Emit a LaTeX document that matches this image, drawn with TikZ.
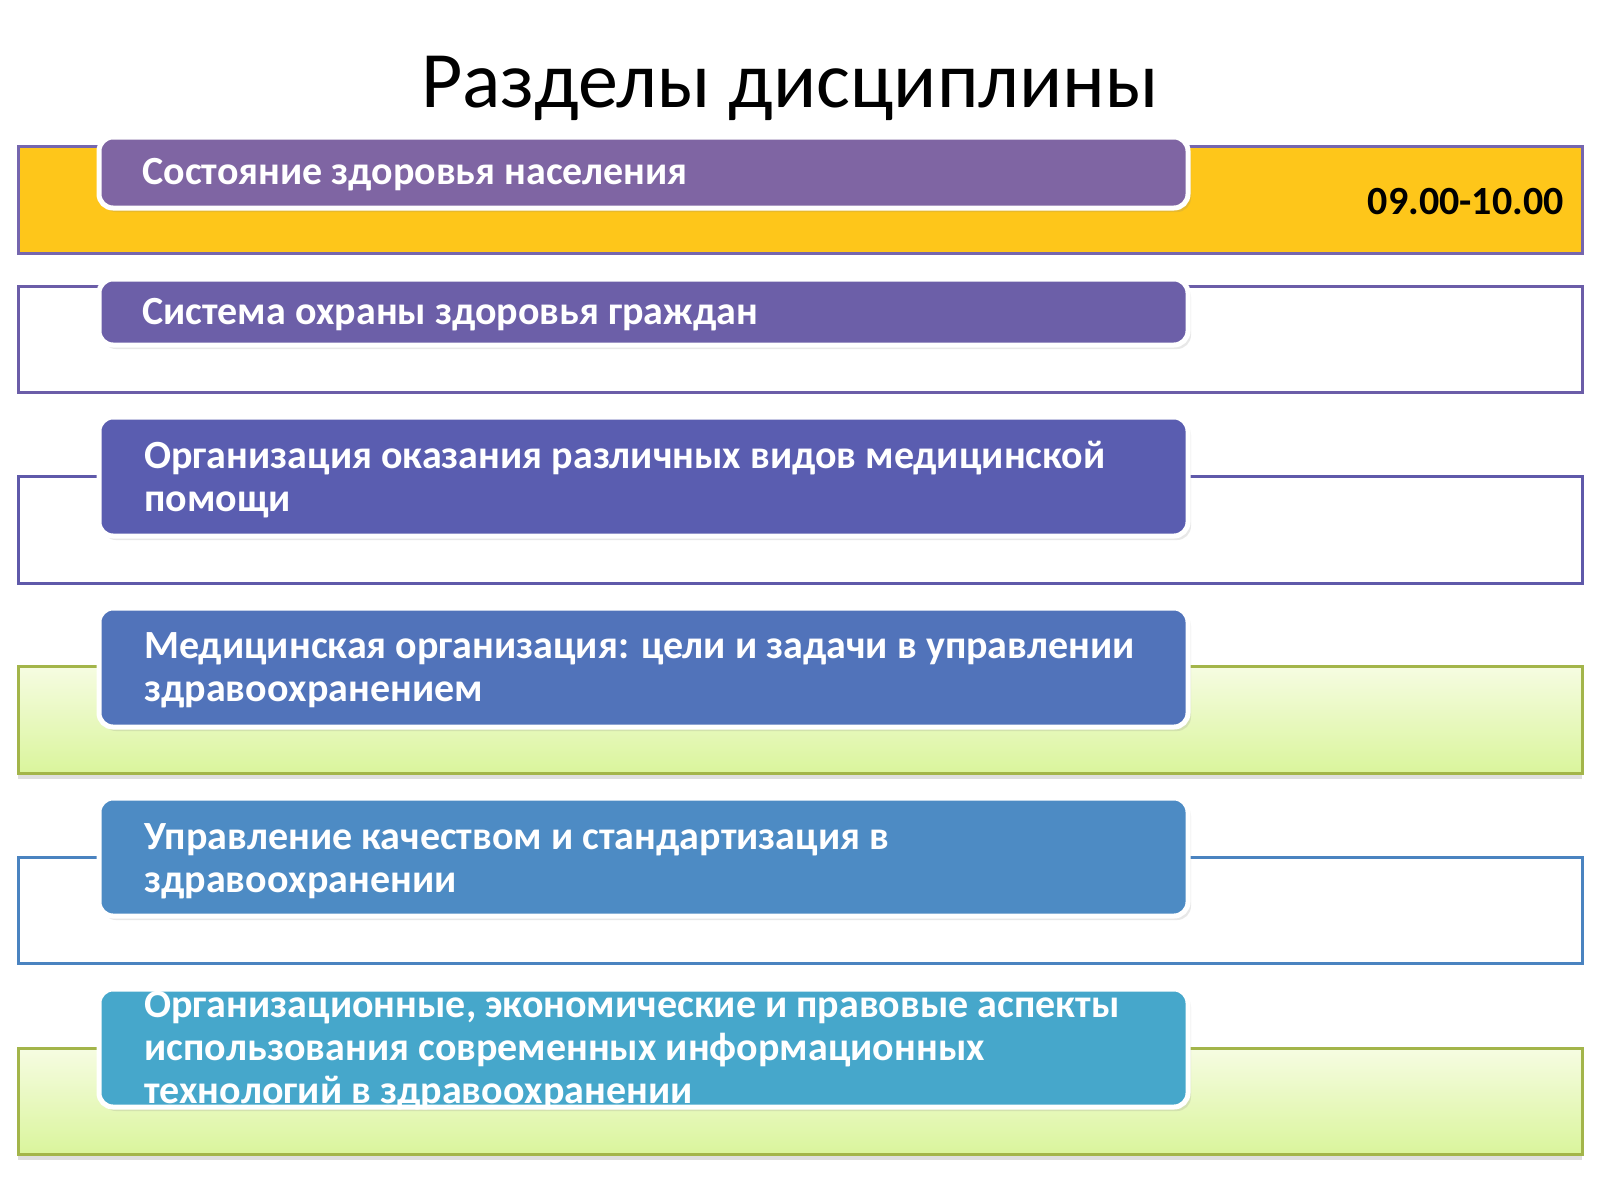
\documentclass[tikz,border=0pt]{standalone}
\usepackage{fontspec}
\setmainfont{Carlito}
\usetikzlibrary{shadows}
\definecolor{yel}{HTML}{FEC61A}
\definecolor{bA}{HTML}{7566AE}
\definecolor{bB}{HTML}{6B5DA8}
\definecolor{bC}{HTML}{5F59AA}
\definecolor{bD}{HTML}{A3B54A}
\definecolor{bE}{HTML}{4A83C0}
\definecolor{fA}{HTML}{7F65A3}
\definecolor{fB}{HTML}{6C5FA8}
\definecolor{fC}{HTML}{5A5DB0}
\definecolor{fD}{HTML}{5173BA}
\definecolor{fE}{HTML}{4D8BC4}
\definecolor{fF}{HTML}{46A7CB}
\definecolor{gTop}{HTML}{F6FCE2}
\definecolor{gBot}{HTML}{DAF59C}
\tikzset{
  outerbar/.style={line width=1.5pt},
  greenbar/.style={outerbar, draw=bD, top color=gTop, bottom color=gBot,
    drop shadow={shadow xshift=0pt, shadow yshift=-3pt, opacity=0.25, fill=gray}},
  secbox/.style={rounded corners=7pt, draw=white, line width=2.5pt,
    drop shadow={shadow xshift=1.5pt, shadow yshift=-2pt, opacity=0.18, fill=gray}},
  seclabel/.style={anchor=west, align=left, text=white, inner sep=0pt,
    font=\bfseries\fontsize{20}{21.5}\selectfont},
}
\begin{document}
\begin{tikzpicture}[x=0.5pt,y=-0.5pt]
\useasboundingbox[fill=white] (0,0) rectangle (1600,1200);

\node (title) at (790,88) {\fontsize{40}{46}\selectfont Разделы дисциплины};

% row 1
\draw[outerbar, draw=bA, fill=yel] (18,146) rectangle (1582,253);
\path[secbox, fill=fA] (99,137) rectangle (1188,208);
\node[seclabel] (s1) at (142,175) {Состояние здоровья населения};
\node[anchor=east, inner sep=0pt, font=\bfseries\fontsize{20}{21.5}\selectfont] (time) at (1564,202) {09.00-10.00};

% row 2
\draw[outerbar, draw=bB, fill=white] (18,286) rectangle (1582,392);
\path[secbox, fill=fB] (99,279) rectangle (1188,345);
\node[seclabel] (s2) at (142,315) {Система охраны здоровья граждан};

% row 3
\draw[outerbar, draw=bC, fill=white] (18,476) rectangle (1582,583);
\path[secbox, fill=fC] (99,417) rectangle (1188,536);
\node[seclabel] (s3) at (144,480) {Организация оказания различных видов медицинской\\помощи};

% row 4
\path[greenbar] (18,666) rectangle (1582,773);
\path[secbox, fill=fD] (99,608) rectangle (1188,727);
\node[seclabel] (s4) at (144,670) {Медицинская организация: цели и задачи в управлении\\здравоохранением};

% row 5
\draw[outerbar, draw=bE, fill=white] (18,857) rectangle (1582,963);
\path[secbox, fill=fE] (99,798) rectangle (1188,916);
\node[seclabel] (s5) at (144,861) {Управление качеством и стандартизация в\\здравоохранении};

% row 6
\path[greenbar] (18,1048) rectangle (1582,1154);
\path[secbox, fill=fF] (99,989) rectangle (1188,1107);
\node[seclabel] (s6) at (144,1051) {Организационные, экономические и правовые аспекты\\использования современных информационных\\технологий в здравоохранении};
\end{tikzpicture}
\end{document}
